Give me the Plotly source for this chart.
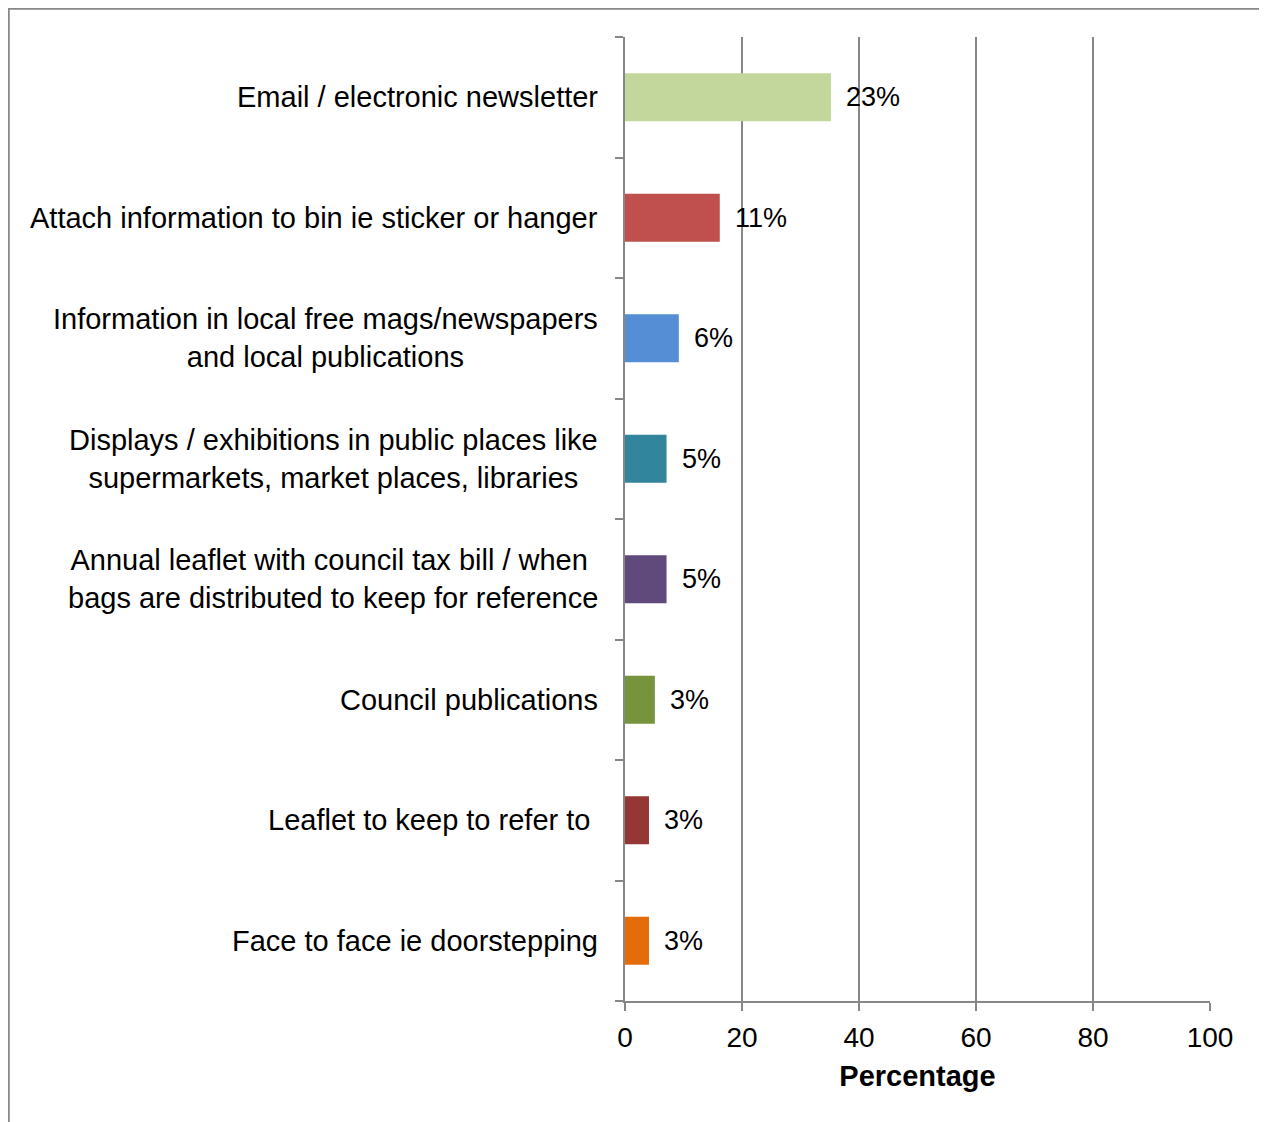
import plotly.graph_objects as go

# survey categories, top to bottom
categories = [
    "Email / electronic newsletter",
    "Attach information to bin ie sticker or hanger",
    "Information in local free mags/newspapers<br>and local publications",
    "Displays / exhibitions in public places like<br>supermarkets, market places, libraries",
    "Annual leaflet with council tax bill / when <br>bags are distributed to keep for reference",
    "Council publications",
    "Leaflet to keep to refer to ",
    "Face to face ie doorstepping",
]
# bar lengths as drawn (read against the axis) and the labels printed on them
bar_values = [35.2, 16.2, 9.2, 7.1, 7.1, 5.1, 4.1, 4.1]
bar_labels = ["23%", "11%", "6%", "5%", "5%", "3%", "3%", "3%"]
bar_colors = ["#C3D69B", "#C0504D", "#558ED5", "#31859C",
              "#604A7B", "#77933C", "#953735", "#E46C0A"]
x_ticks = [0, 20, 40, 60, 80, 100]

# page body adds an 8px offset, so figure coords are shifted by 8
W, H = 1275, 1122
ml, mr, mt, mb = 617, 73, 29, 129
pw, ph = W - ml - mr, H - mt - mb
grey = "#878787"
font = "Liberation Sans, Arial, sans-serif"

fig = go.Figure(go.Bar(
    y=categories, x=bar_values, orientation="h",
    marker=dict(color=bar_colors, line=dict(width=0)),
    width=0.4, hoverinfo="skip",
))

# data labels
for c, v, t in zip(categories, bar_values, bar_labels):
    fig.add_annotation(x=v, y=c, text=t, showarrow=False, xanchor="left",
                       xshift=13, font=dict(size=27, color="black", family=font))

# category labels (centred multi-line text like the original)
for c in categories:
    fig.add_annotation(x=0, y=c, xref="paper", text=c, showarrow=False,
                       xanchor="right", align="center", xshift=-25,
                       font=dict(size=29, color="black", family=font))

# outer border
fig.add_shape(type="rect", xref="paper", yref="paper",
              x0=(0.5 - ml) / pw, x1=(1257 - ml) / pw,
              y0=(H - mb - 1140) / ph, y1=(H - mb - 0.5) / ph,
              line=dict(color="#888888", width=2.5), layer="below")

fig.update_layout(
    width=W, height=H,
    margin=dict(l=ml, r=mr, t=mt, b=mb),
    plot_bgcolor="white", paper_bgcolor="white",
    showlegend=False,
    font=dict(family=font, size=27, color="black"),
    xaxis=dict(
        range=[0, 100], tickvals=x_ticks, ticks="outside", ticklen=8,
        tickcolor=grey, tickwidth=2, showgrid=True, gridcolor=grey,
        gridwidth=2, showline=True, linecolor=grey, linewidth=2,
        zeroline=False, tickfont=dict(size=28), ticklabelstandoff=2,
        title=dict(text="<b>Percentage</b>", font=dict(size=29), standoff=14),
    ),
    yaxis=dict(
        categoryorder="array", categoryarray=categories[::-1],
        showticklabels=False, ticks="outside", ticklen=8, tickcolor=grey,
        tickwidth=2, tickson="boundaries", showline=True, linecolor=grey,
        linewidth=2, showgrid=False, zeroline=False,
    ),
)

fig.write_html("out.html")
